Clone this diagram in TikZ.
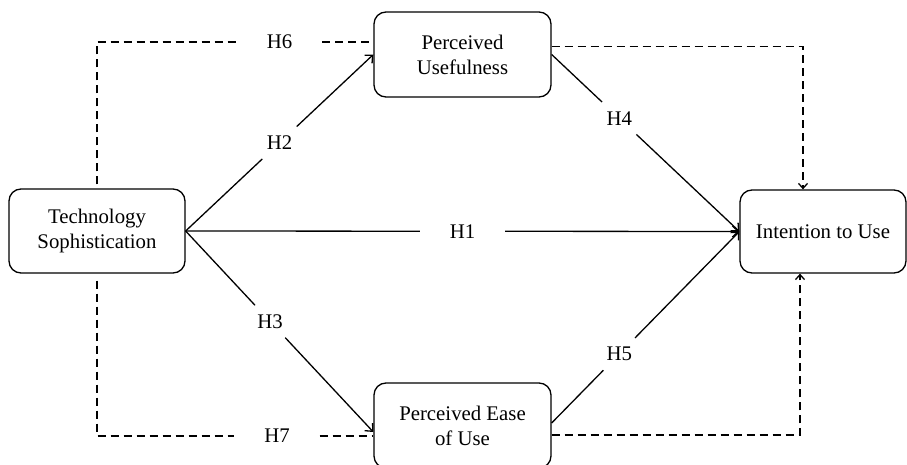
\documentclass[tikz,border=0pt]{standalone}
\usepackage{fontspec}
\setmainfont{Liberation Serif}
\usetikzlibrary{arrows.meta,calc}
\begin{document}
\begin{tikzpicture}[x=1pt,y=-1pt,
  box/.style={draw, rounded corners=12pt, line width=1.3pt, align=center,
    font=\fontsize{20.8}{25}\selectfont},
  lab/.style={minimum width=85pt, minimum height=32pt, inner sep=0pt,
    font=\fontsize{20.8}{25}\selectfont},
  ln/.style={line width=1.3pt},
  arr/.style={line width=1.3pt, -{Straight Barb[length=6pt,width=11pt]}},
  dsh/.style={line width=1.3pt, dash pattern=on 8pt off 5pt},
]
\useasboundingbox (0,0) rectangle (907,465);
% boxes
\node[box, minimum width=176pt, minimum height=84pt] (ts) at (97,231) {Technology\\Sophistication};
\node[box, minimum width=177pt, minimum height=85pt] (pu) at (462.5,54.5) {Perceived\\Usefulness};
\node[box, minimum width=177pt, minimum height=85pt] (peou) at (462.5,425.5) {Perceived Ease\\of Use};
\node[box, minimum width=166pt, minimum height=83pt] (iu) at (823,231.5) {Intention to Use};
% anchor points
\coordinate (peouin) at ([yshift=-6.5pt]peou.west);
\coordinate (peouout) at ([yshift=2.5pt]peou.east);
% labels
\node[lab] (h1) at ($(ts.east)!0.5!(iu.west)$) {H1};
\node[lab] (h2) at ($(ts.east)!0.5!(pu.west)$) {H2};
\node[lab] (h3) at ($(ts.east)!0.45!(peouin)$) {H3};
\node[lab] (h4) at ($(pu.east)!0.36!(iu.west)$) {H4};
\node[lab] (h5) at ($(peouout)!0.36!(iu.west)$) {H5};
\node[lab] (h6) at (279.5,42) {H6};
\node[lab] (h7) at (277,436) {H7};
% solid connectors
\draw[ln] (ts.east) -- (h1);
\draw[arr] (h1) -- (iu.west);
\draw[ln] (ts.east) -- (h2);
\draw[arr] (h2) -- (pu.west);
\draw[ln] (ts.east) -- (h3);
\draw[arr] (h3) -- (peouin);
\draw[ln] (pu.east) -- (h4);
\draw[arr] (h4) -- (iu.west);
\draw[ln] (peouout) -- (h5);
\draw[arr] (h5) -- (iu.west);
% dashed connectors
\draw[dsh] ([yshift=4pt]ts.north) |- (h6);
\draw[dsh] (h6) -- (pu.west |- h6);
\draw[dsh] ([yshift=-7pt]ts.south) |- (h7);
\draw[dsh] (h7) -- (peou.west |- h7);
\draw[dsh, -{Straight Barb[length=5pt,width=9pt]}] ([yshift=8pt]pu.east) -| ([xshift=-20pt]iu.north);
\draw[dsh, -{Straight Barb[length=5pt,width=9pt]}] ([yshift=-9.5pt]peou.east) -| ([xshift=-23pt]iu.south);
\end{tikzpicture}
\end{document}
